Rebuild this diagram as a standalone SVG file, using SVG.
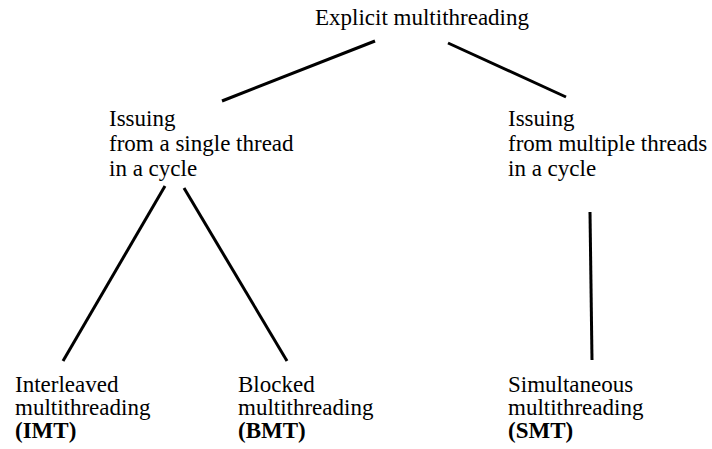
<svg xmlns="http://www.w3.org/2000/svg" width="712" height="449" viewBox="0 0 712 449">
  <style>
    .b { font-weight: bold; }
    .edge { stroke: #000; stroke-width: 3; stroke-linecap: butt; fill: none; }
  </style>
  <rect width="712" height="449" fill="#fff"/>
  <g id="connectors">
    <line class="edge" x1="375" y1="41" x2="222" y2="101"/>
    <line class="edge" x1="448" y1="43" x2="566" y2="97"/>
    <line class="edge" x1="165" y1="186" x2="63" y2="361"/>
    <line class="edge" x1="184" y1="188" x2="287" y2="361"/>
    <line class="edge" x1="590" y1="212" x2="592" y2="360"/>
  </g>
  <g font-family="Liberation Serif, Times New Roman, serif" font-size="23" fill="#000">
    <g id="root">
      <text x="315" y="25">Explicit multithreading</text>
    </g>
    <g id="single">
      <text x="109" y="126">Issuing</text>
      <text x="109" y="151">from a single thread</text>
      <text x="109" y="176">in a cycle</text>
    </g>
    <g id="multiple">
      <text x="508" y="126">Issuing</text>
      <text x="508" y="151">from multiple threads</text>
      <text x="508" y="176">in a cycle</text>
    </g>
    <g id="imt">
      <text x="15" y="392">Interleaved</text>
      <text x="15" y="415">multithreading</text>
      <text x="15" y="438" class="b">(IMT)</text>
    </g>
    <g id="bmt">
      <text x="238" y="392">Blocked</text>
      <text x="238" y="415">multithreading</text>
      <text x="238" y="438" class="b">(BMT)</text>
    </g>
    <g id="smt">
      <text x="508" y="392">Simultaneous</text>
      <text x="508" y="415">multithreading</text>
      <text x="508" y="438" class="b">(SMT)</text>
    </g>
  </g>
</svg>
